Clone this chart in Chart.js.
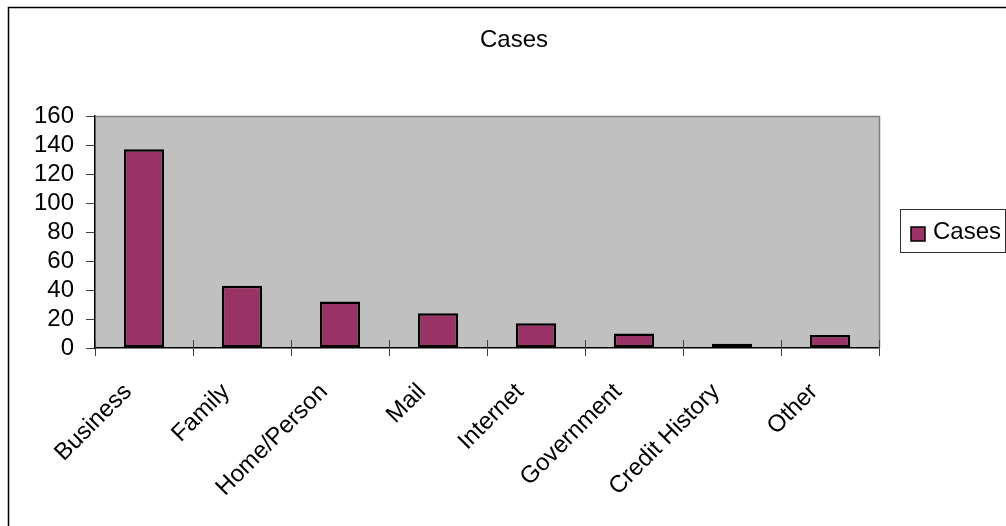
<!DOCTYPE html>
<html>
<head>
<meta charset="utf-8">
<script src="https://cdn.jsdelivr.net/npm/chart.js@4/dist/chart.umd.min.js"></script>
<style>
  html, body { margin: 0; padding: 0; background: #ffffff; }
  #wrap { width: 1006px; height: 526px; position: relative; }
</style>
</head>
<body>
<div id="wrap"><canvas id="chart" width="1006" height="526"></canvas></div>
<script>
// Case counts by source category
const categories = ['Business', 'Family', 'Home/Person', 'Mail', 'Internet', 'Government', 'Credit History', 'Other'];
const caseCounts = [137, 43, 32, 24, 17, 10, 3, 9];
const seriesName = 'Cases';
const yTickValues = [0, 20, 40, 60, 80, 100, 120, 140, 160];

const FONT = "'Liberation Sans', Arial, sans-serif";
const BAR_FILL = '#993366';

// Plot background, plot frame, cross tick marks, title, outer frame and legend box
const decorations = {
  id: 'decorations',
  beforeDraw(chart) {
    const { ctx, chartArea: a } = chart;
    ctx.save();
    ctx.fillStyle = '#c0c0c0';
    ctx.fillRect(a.left, a.top, a.right - a.left, a.bottom - a.top);
    ctx.restore();
  },
  afterDatasetsDraw(chart) {
    const { ctx, chartArea: a } = chart;
    ctx.save();
    // gray top and right edges of the plot area
    ctx.strokeStyle = '#808080';
    ctx.lineWidth = 1.5;
    ctx.beginPath();
    ctx.moveTo(a.left, a.top + 0.5);
    ctx.lineTo(a.right + 0.5, a.top + 0.5);
    ctx.lineTo(a.right + 0.5, a.bottom);
    ctx.stroke();
    // upper half of the crossing category tick marks
    const xs = chart.scales.x;
    const n = categories.length;
    const step = (xs.right - xs.left) / n;
    ctx.strokeStyle = '#404040';
    ctx.lineWidth = 1;
    ctx.beginPath();
    for (let i = 0; i <= n; i++) {
      const x = Math.round(xs.left + i * step) + 0.5;
      ctx.moveTo(x, a.bottom - 8);
      ctx.lineTo(x, a.bottom);
    }
    ctx.stroke();
    ctx.restore();
  },
  afterDraw(chart) {
    const { ctx } = chart;
    const ds = chart.data.datasets[0];
    ctx.save();
    // chart title
    ctx.fillStyle = '#000000';
    ctx.font = '24px ' + FONT;
    ctx.textBaseline = 'middle';
    ctx.textAlign = 'center';
    ctx.fillText(seriesName, 514, 40);
    // outer chart frame (continues past the right and bottom edges)
    ctx.strokeStyle = '#000000';
    ctx.lineWidth = 1.5;
    ctx.beginPath();
    ctx.moveTo(8.5, 526);
    ctx.lineTo(8.5, 7.5);
    ctx.lineTo(1006, 7.5);
    ctx.stroke();
    // legend box
    ctx.strokeStyle = '#303030';
    ctx.lineWidth = 1;
    ctx.fillStyle = '#ffffff';
    ctx.fillRect(900.5, 209.5, 105, 43);
    ctx.strokeRect(900.5, 209.5, 105, 43);
    ctx.fillStyle = ds.backgroundColor;
    ctx.fillRect(911, 227, 14, 14);
    ctx.strokeStyle = '#000000';
    ctx.lineWidth = 1.5;
    ctx.strokeRect(911, 227, 14, 14);
    ctx.fillStyle = '#000000';
    ctx.textAlign = 'left';
    ctx.fillText(ds.label, 933, 232);
    ctx.restore();
  }
};

new Chart(document.getElementById('chart'), {
  type: 'bar',
  data: {
    labels: categories,
    datasets: [{
      label: seriesName,
      data: caseCounts,
      backgroundColor: BAR_FILL,
      borderColor: '#000000',
      borderWidth: 2.5,
      borderSkipped: false,
      categoryPercentage: 1.0,
      barPercentage: 0.41
    }]
  },
  options: {
    responsive: false,
    animation: false,
    layout: { padding: { left: 0, right: 127, top: 116, bottom: 0 } },
    plugins: {
      legend: { display: false },
      tooltip: { enabled: false },
      title: { display: false }
    },
    scales: {
      x: {
        offset: true,
        grid: {
          offset: true,
          drawOnChartArea: false,
          drawTicks: true,
          tickLength: 8,
          color: '#404040',
          lineWidth: 1
        },
        border: { display: true, color: '#000000', width: 1.5 },
        ticks: {
          autoSkip: false,
          maxRotation: 45,
          minRotation: 45,
          padding: 22,
          labelOffset: -16,
          color: '#000000',
          font: { family: FONT, size: 24 }
        },
        afterFit(axis) { axis.height = 178; }
      },
      y: {
        min: 0,
        max: 160,
        afterBuildTicks(axis) { axis.ticks = yTickValues.map(v => ({ value: v })); },
        grid: {
          drawOnChartArea: false,
          drawTicks: true,
          tickLength: 9,
          color: '#404040',
          lineWidth: 1
        },
        border: { display: true, color: '#000000', width: 1.5 },
        ticks: {
          autoSkip: false,
          padding: 12,
          color: '#000000',
          font: { family: FONT, size: 24 }
        },
        afterFit(axis) { axis.width = 95; }
      }
    }
  },
  plugins: [decorations]
});
</script>
</body>
</html>
